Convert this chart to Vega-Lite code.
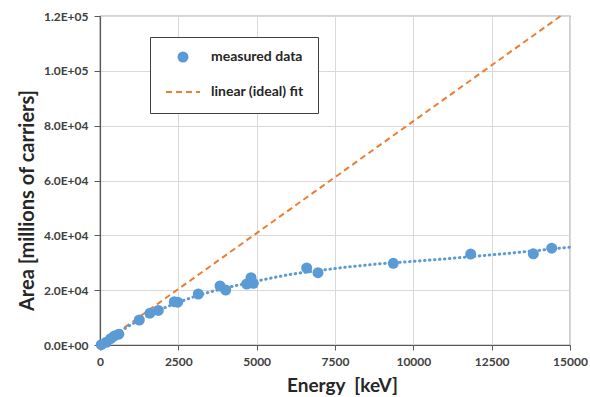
{
  "$schema": "https://vega.github.io/schema/vega-lite/v6.json",
  "width": 470,
  "height": 329,
  "autosize": "none",
  "padding": {"left": 100, "top": 16, "right": 20, "bottom": 52},
  "background": "white",
  "datasets": {
    "measured": [
      {"E": 40, "A": 100, "series": "measured data"},
      {"E": 200, "A": 1000, "series": "measured data"},
      {"E": 340, "A": 2300, "series": "measured data"},
      {"E": 460, "A": 3300, "series": "measured data"},
      {"E": 600, "A": 3950, "series": "measured data"},
      {"E": 1254, "A": 9120, "series": "measured data"},
      {"E": 1596, "A": 11600, "series": "measured data"},
      {"E": 1861, "A": 12600, "series": "measured data"},
      {"E": 2371, "A": 15790, "series": "measured data"},
      {"E": 2480, "A": 15600, "series": "measured data"},
      {"E": 3137, "A": 18600, "series": "measured data"},
      {"E": 3830, "A": 21520, "series": "measured data"},
      {"E": 4012, "A": 20060, "series": "measured data"},
      {"E": 4682, "A": 22250, "series": "measured data"},
      {"E": 4819, "A": 24550, "series": "measured data"},
      {"E": 4893, "A": 22500, "series": "measured data"},
      {"E": 6597, "A": 28090, "series": "measured data"},
      {"E": 6957, "A": 26370, "series": "measured data"},
      {"E": 9360, "A": 29800, "series": "measured data"},
      {"E": 11831, "A": 33150, "series": "measured data"},
      {"E": 13830, "A": 33250, "series": "measured data"},
      {"E": 14416, "A": 35320, "series": "measured data"}
    ],
    "ideal": [
      {"E": 0, "A": 0, "series": "linear (ideal) fit"},
      {"E": 14700, "A": 120000, "series": "linear (ideal) fit"}
    ],
    "fit": [
      {"E": 0, "A": 0},
      {"E": 250, "A": 2000},
      {"E": 500, "A": 3900},
      {"E": 750, "A": 5750},
      {"E": 1000, "A": 7500},
      {"E": 1500, "A": 10600},
      {"E": 2000, "A": 13300},
      {"E": 2500, "A": 15600},
      {"E": 3000, "A": 17600},
      {"E": 3500, "A": 19300},
      {"E": 4000, "A": 20800},
      {"E": 4500, "A": 22100},
      {"E": 5000, "A": 23300},
      {"E": 5500, "A": 24500},
      {"E": 6000, "A": 25600},
      {"E": 6500, "A": 26500},
      {"E": 7000, "A": 27200},
      {"E": 7500, "A": 27900},
      {"E": 8000, "A": 28600},
      {"E": 9000, "A": 29700},
      {"E": 10000, "A": 30500},
      {"E": 11000, "A": 31400},
      {"E": 12000, "A": 32400},
      {"E": 13000, "A": 33400},
      {"E": 14000, "A": 34500},
      {"E": 15000, "A": 35700}
    ]
  },
  "encoding": {
    "x": {
      "field": "E",
      "type": "quantitative",
      "scale": {"domain": [0, 15000], "nice": false, "zero": false},
      "axis": {
        "values": [0, 2500, 5000, 7500, 10000, 12500, 15000],
        "format": "d",
        "title": "Energy\u00a0\u00a0[keV]",
        "titleFontSize": 19,
        "titleX": 242,
        "titleY": 40,
        "titleBaseline": "middle",
        "titleAlign": "center",
        "tickSize": 5,
        "labelPadding": 6,
        "labelFlush": false
      }
    },
    "y": {
      "field": "A",
      "type": "quantitative",
      "scale": {"domain": [0, 120000], "nice": false},
      "axis": {
        "values": [0, 20000, 40000, 60000, 80000, 100000, 120000],
        "labelExpr": "replace(upper(format(datum.value, '.1e')), 'E+', 'E+0')",
        "title": "Area [millions of carriers]",
        "titleFontSize": 20,
        "titleX": -73,
        "titleY": 184,
        "titleBaseline": "middle",
        "titleAlign": "center",
        "tickSize": 6,
        "labelPadding": 6,
        "labelFlush": false
      }
    }
  },
  "layer": [
    {
      "data": {"name": "ideal"},
      "mark": {"type": "line", "strokeWidth": 2, "strokeDash": [6, 4]},
      "encoding": {
        "color": {
          "field": "series",
          "type": "nominal",
          "scale": {"domain": ["measured data", "linear (ideal) fit"], "range": ["#5b9bd5", "#ed7d31"]},
          "legend": {
            "orient": "none",
            "legendX": 50,
            "legendY": 21,
            "title": null,
            "padding": 14,
            "strokeColor": "#404040",
            "fillColor": "white",
            "symbolSize": 1156,
            "clipHeight": 12,
            "rowPadding": 21,
            "symbolOffset": 12,
            "labelOffset": 21,
            "labelFont": "Lato",
            "labelFontSize": 14,
            "labelFontWeight": "bold",
            "labelColor": "#262626",
            "encode": {
              "symbols": {
                "update": {
                  "shape": {"signal": "datum.value == 'measured data' ? 'circle' : 'stroke'"},
                  "size": {"signal": "datum.value == 'measured data' ? 121 : 1156"},
                  "fill": {"signal": "datum.value == 'measured data' ? '#5b9bd5' : 'transparent'"},
                  "stroke": {"signal": "datum.value == 'measured data' ? 'transparent' : '#ed7d31'"},
                  "strokeDash": {"signal": "datum.value == 'measured data' ? [] : [6, 4]"},
                  "strokeWidth": {"signal": "datum.value == 'measured data' ? 0 : 2"},
                  "opacity": {"value": 1}
                }
              }
            }
          }
        }
      }
    },
    {
      "data": {"name": "fit"},
      "mark": {"type": "line", "color": "#5b9bd5", "strokeWidth": 3, "strokeDash": [0.5, 4.5], "strokeCap": "round"},
      "encoding": {}
    },
    {
      "data": {"name": "measured"},
      "mark": {"type": "point", "filled": true, "size": 121, "opacity": 1},
      "encoding": {
        "color": {"field": "series", "type": "nominal"}
      }
    }
  ],
  "config": {
    "view": {"stroke": "#595959", "strokeWidth": 1.2},
    "axis": {
      "grid": true,
      "gridColor": "#d9d9d9",
      "gridWidth": 1,
      "domainColor": "#595959",
      "domainWidth": 1.2,
      "tickColor": "#595959",
      "labelFont": "Lato",
      "labelFontSize": 12,
      "labelFontWeight": "bold",
      "labelColor": "#404040",
      "titleFont": "Lato",
      "titleFontWeight": "bold",
      "titleColor": "#262626"
    }
  }
}
